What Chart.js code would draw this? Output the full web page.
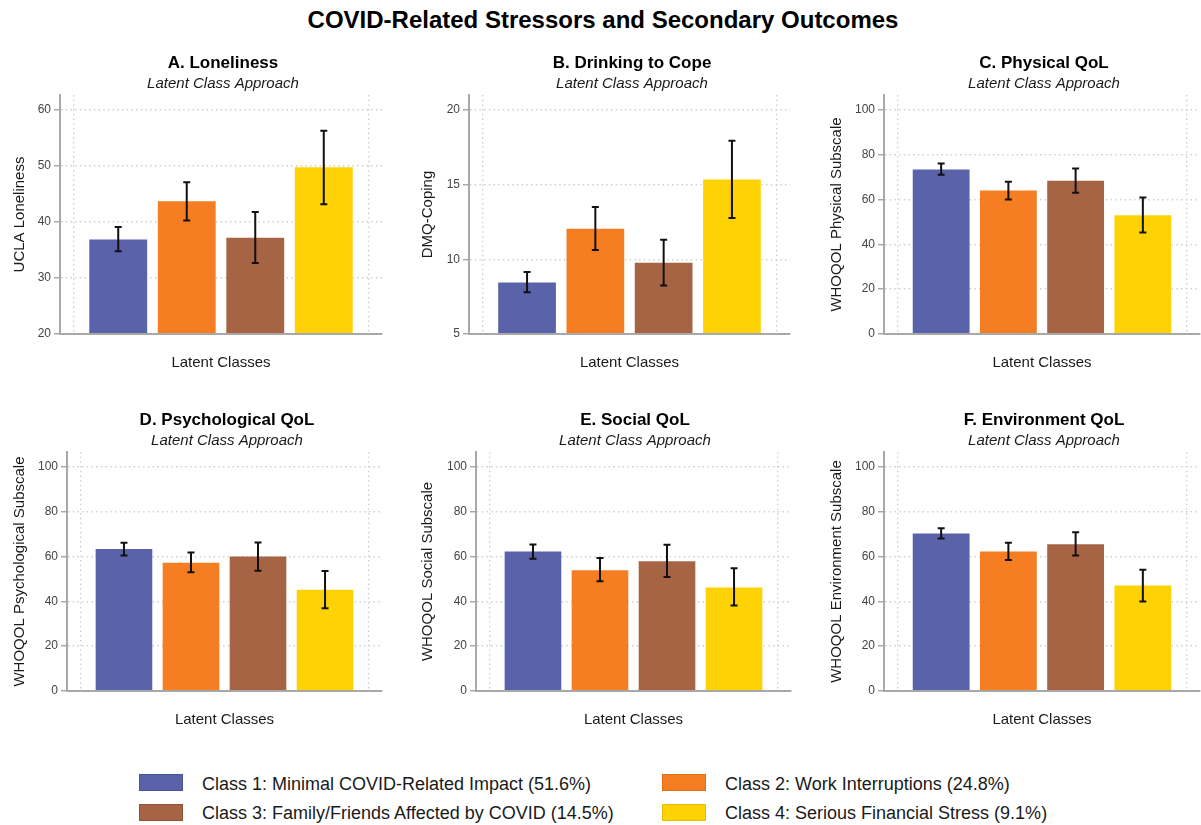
<!DOCTYPE html>
<html>
<head>
<meta charset="utf-8">
<title>COVID-Related Stressors and Secondary Outcomes</title>
<script src="https://cdn.jsdelivr.net/npm/chart.js@4.4.1/dist/chart.umd.min.js"></script>
<style>
  html, body { margin: 0; padding: 0; background: #fff; }
  body { position: relative; width: 1201px; height: 825px; overflow: hidden;
         font-family: "Liberation Sans", Arial, Helvetica, sans-serif; }
  canvas { position: absolute; }
  #mainTitle { position: absolute; left: 0; width: 1206px; top: 5px; text-align: center;
               font-weight: bold; font-size: 24px; line-height: 30px; color: #000; }
  .lg-swatch { position: absolute; width: 42px; height: 15px; border: 1px solid; }
  .lg-text { position: absolute; font-size: 18px; line-height: 18px; color: #1a1a1a; white-space: nowrap; }
</style>
</head>
<body>
<div id="mainTitle">COVID-Related Stressors and Secondary Outcomes</div>

<script>
// ---- Classes (shared by every panel) ----
const classNames = [
  'Class 1: Minimal COVID-Related Impact (51.6%)',
  'Class 2: Work Interruptions (24.8%)',
  'Class 3: Family/Friends Affected by COVID (14.5%)',
  'Class 4: Serious Financial Stress (9.1%)'
];
const classPositions = [1, 2, 3, 4];

// ---- Means and 95% CI bounds per outcome ----
const lonelinessMean = [36.9, 43.7, 37.2, 49.8];
const lonelinessLow  = [34.8, 40.3, 32.7, 43.2];
const lonelinessHigh = [39.1, 47.1, 41.8, 56.3];

const copingMean = [8.45, 12.04, 9.77, 15.34];
const copingLow  = [7.79, 10.62, 8.25, 12.76];
const copingHigh = [9.15, 13.51, 11.31, 17.93];

const physicalMean = [73.4, 64.0, 68.4, 53.0];
const physicalLow  = [71.0, 60.0, 63.0, 45.3];
const physicalHigh = [76.1, 67.9, 73.8, 60.9];

const psychMean = [63.3, 57.2, 60.0, 45.2];
const psychLow  = [60.4, 53.0, 53.6, 36.9];
const psychHigh = [66.1, 61.8, 66.2, 53.5];

const socialMean = [62.2, 53.9, 57.9, 46.2];
const socialLow  = [59.0, 48.9, 50.8, 38.1];
const socialHigh = [65.3, 59.3, 65.2, 54.7];

const envMean = [70.2, 62.2, 65.5, 47.0];
const envLow  = [68.0, 58.4, 60.4, 39.9];
const envHigh = [72.6, 66.1, 70.8, 54.1];

// ---- Tick labels ----
const lonelinessTicks = [20, 30, 40, 50, 60];
const copingTicks = [5, 10, 15, 20];
const qolTicks = [0, 20, 40, 60, 80, 100];
const xGridValues = [0.35, 4.65];

// ---- Styling ----
const FONT = '"Liberation Sans", Arial, Helvetica, sans-serif';
const classColors = ['#5a62a9', '#f47e21', '#a66444', '#fed205'];
const classBorders = ['#4a519b', '#e06d12', '#8f5236', '#e8bd00'];
const axisColor = '#a8a8a8';
const gridColor = '#cdcdcd';

// ---- Panel definitions ----
const panels = [
  { title: 'A. Loneliness', yTitle: 'UCLA Loneliness', mean: lonelinessMean, low: lonelinessLow, high: lonelinessHigh,
    ticks: lonelinessTicks, min: 20, max: 62.7,
    box: { left: 0, top: 40, w: 446, yw: 60, padR: 64, ytp: 11 } },
  { title: 'B. Drinking to Cope', yTitle: 'DMQ-Coping', mean: copingMean, low: copingLow, high: copingHigh,
    ticks: copingTicks, min: 5, max: 21,
    box: { left: 410, top: 40, w: 444, yw: 59, padR: 64, ytp: 9 } },
  { title: 'C. Physical QoL', yTitle: 'WHOQOL Physical Subscale', mean: physicalMean, low: physicalLow, high: physicalHigh,
    ticks: qolTicks, min: 0, max: 106.6,
    box: { left: 820, top: 40, w: 448, yw: 64, padR: 68, ytp: 8 } },
  { title: 'D. Psychological QoL', yTitle: 'WHOQOL Psychological Subscale', mean: psychMean, low: psychLow, high: psychHigh,
    ticks: qolTicks, min: 0, max: 106.6,
    box: { left: 0, top: 397, w: 454, yw: 67, padR: 72, ytp: 11 } },
  { title: 'E. Social QoL', yTitle: 'WHOQOL Social Subscale', mean: socialMean, low: socialLow, high: socialHigh,
    ticks: qolTicks, min: 0, max: 106.6,
    box: { left: 410, top: 397, w: 450, yw: 66, padR: 69, ytp: 9.3 } },
  { title: 'F. Environment QoL', yTitle: 'WHOQOL Environment Subscale', mean: envMean, low: envLow, high: envHigh,
    ticks: qolTicks, min: 0, max: 106.6,
    box: { left: 820, top: 397, w: 448, yw: 64, padR: 68, ytp: 8 } }
];

// Draws the confidence-interval whiskers on top of each bar
const errorBars = {
  id: 'errorBars',
  afterDatasetsDraw(chart) {
    const ds = chart.data.datasets[0];
    const meta = chart.getDatasetMeta(0);
    const yScale = chart.scales.y;
    const ctx = chart.ctx;
    const cap = 3.5;
    ctx.save();
    ctx.strokeStyle = '#111';
    ctx.lineWidth = 2;
    meta.data.forEach((bar, i) => {
      const x = bar.x;
      const yLo = yScale.getPixelForValue(ds.errLow[i]);
      const yHi = yScale.getPixelForValue(ds.errHigh[i]);
      ctx.beginPath();
      ctx.moveTo(x, yLo); ctx.lineTo(x, yHi);
      ctx.moveTo(x - cap, yLo); ctx.lineTo(x + cap, yLo);
      ctx.moveTo(x - cap, yHi); ctx.lineTo(x + cap, yHi);
      ctx.stroke();
    });
    ctx.restore();
  }
};

function makePanel(p) {
  const b = p.box;
  const canvas = document.createElement('canvas');
  canvas.width = b.w;
  canvas.height = 336;
  canvas.style.left = b.left + 'px';
  canvas.style.top = b.top + 'px';
  document.body.appendChild(canvas);

  new Chart(canvas, {
    type: 'bar',
    data: {
      datasets: [{
        data: classPositions.map((x, i) => ({ x: x, y: p.mean[i] })),
        backgroundColor: classColors,
        borderWidth: 0,
        categoryPercentage: 1,
        barPercentage: 0.845,
        errLow: p.low,
        errHigh: p.high
      }]
    },
    options: {
      responsive: false,
      animation: false,
      devicePixelRatio: 1,
      events: [],
      layout: { padding: 0 },
      plugins: {
        legend: { display: false },
        tooltip: { enabled: false },
        title: {
          display: true, text: p.title, color: '#000',
          font: { family: FONT, size: 17, weight: 'bold', lineHeight: 1.2 },
          padding: { top: 13, bottom: 0 }
        },
        subtitle: {
          display: true, text: 'Latent Class Approach', color: '#1a1a1a',
          font: { family: FONT, size: 15, style: 'italic', lineHeight: 1.2 },
          padding: { top: 1.6, bottom: 2 }
        }
      },
      scales: {
        x: {
          type: 'linear', min: 0.15, max: 4.85, offset: false,
          afterBuildTicks: s => { s.ticks = xGridValues.map(v => ({ value: v })); },
          afterFit: s => { s.height = 42; },
          ticks: { display: false },
          grid: { offset: false, drawTicks: false, color: gridColor, lineWidth: 1.4 },
          border: { display: true, color: axisColor, width: 2, dash: [1.4, 3.3], z: 1 },
          title: {
            display: true, text: 'Latent Classes', color: '#1a1a1a',
            font: { family: FONT, size: 15, lineHeight: 1.2 },
            padding: { top: 0, bottom: 4 }
          }
        },
        y: {
          type: 'linear', min: p.min, max: p.max, beginAtZero: false,
          afterBuildTicks: s => { s.ticks = p.ticks.map(v => ({ value: v })); },
          afterFit: s => { s.width = b.yw; },
          ticks: { font: { family: FONT, size: 12 }, color: '#444', padding: 3 },
          grid: { color: gridColor, lineWidth: 1.4, drawTicks: true, tickLength: 6,
                  tickColor: axisColor, tickWidth: 1.5 },
          border: { display: true, color: axisColor, width: 2, dash: [1.4, 3.3], z: 1 },
          title: {
            display: true, text: p.yTitle, color: '#1a1a1a',
            font: { family: FONT, size: 15, lineHeight: 1.2 },
            padding: { top: b.ytp, bottom: 0 }
          }
        },
        // empty right-hand gutter so the panel title stays centred on the canvas
        gutter: {
          type: 'linear', position: 'right', display: true,
          afterFit: s => { s.width = b.padR; },
          ticks: { display: false },
          grid: { display: false },
          border: { display: false }
        }
      }
    },
    plugins: [errorBars]
  });
}

panels.forEach(makePanel);

// ---- Shared legend ----
const legendCols = [139, 662];
const legendRows = [774, 803.5];
classNames.forEach((name, i) => {
  const col = i % 2, row = Math.floor(i / 2);
  const sw = document.createElement('div');
  sw.className = 'lg-swatch';
  sw.style.left = legendCols[col] + 'px';
  sw.style.top = legendRows[row] + 'px';
  sw.style.background = classColors[i];
  sw.style.borderColor = classBorders[i];
  document.body.appendChild(sw);
  const tx = document.createElement('div');
  tx.className = 'lg-text';
  tx.style.left = (legendCols[col] + 63) + 'px';
  tx.style.top = (legendRows[row] + 0.5) + 'px';
  tx.textContent = name;
  document.body.appendChild(tx);
});
</script>
</body>
</html>
